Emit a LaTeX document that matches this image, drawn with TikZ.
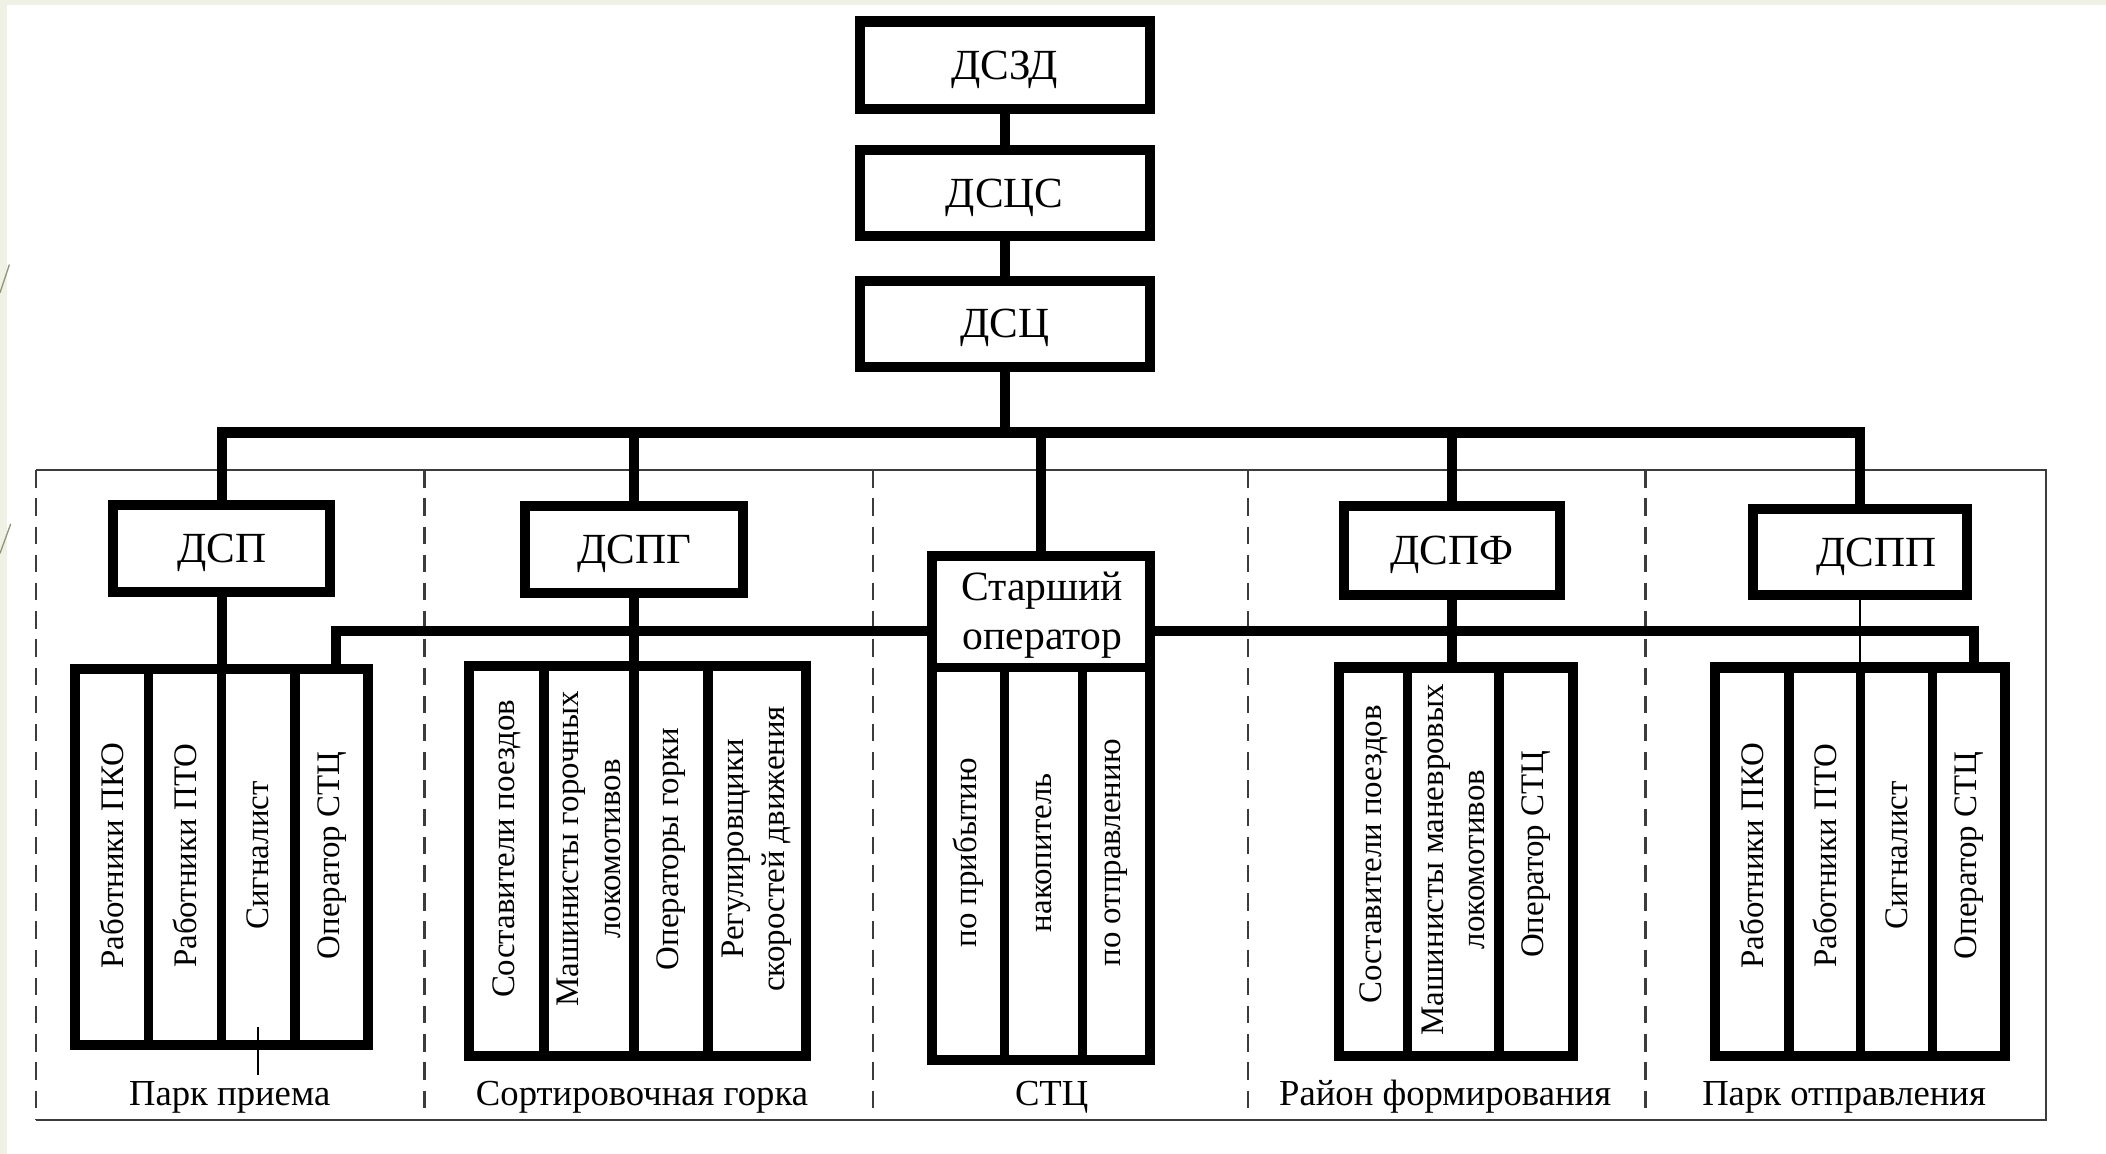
\documentclass[tikz,border=0pt]{standalone}
\usepackage{fontspec}
\setmainfont{Liberation Serif}
\definecolor{slidebg}{RGB}{239,241,229}
\definecolor{deco}{RGB}{150,150,118}
\definecolor{framegray}{RGB}{60,60,60}
\begin{document}
\begin{tikzpicture}[x=1pt,y=-1pt,
  thickbox/.style={draw=black, line width=7.5pt, fill=white, rectangle, inner sep=0pt},
  toplabel/.style={font=\fontsize{32}{38}\selectfont, text height=21pt, text depth=0pt},
  bus/.style={line width=7.5pt, black},
  colsep/.style={line width=7pt, black},
  thinlink/.style={line width=1.6pt, black},
  vtext/.style={rotate=90, font=\fontsize{24.5}{31}\selectfont, align=center, inner sep=0pt},
  zonelabel/.style={font=\fontsize{27.3}{32}\selectfont, inner sep=0pt, anchor=base},
  zonedash/.style={line width=1.8pt, framegray, dash pattern=on 13pt off 8pt},
  zonesolid/.style={line width=1.6pt, framegray}]
\useasboundingbox (0,0) rectangle (1568,859);
% background
\fill[slidebg] (0,0) rectangle (1568,859);
\fill[white] (5,4) rectangle (1568,859);
\draw[deco, line width=1pt] (0,218) -- (7,197);
\draw[deco, line width=1pt] (0,412) -- (8,390);

% zone frame
\draw[zonesolid] (27,350) -- (1523,350) -- (1523,834) -- (27,834);
\draw[zonedash] (27,350) -- (27,834);
\draw[zonedash] (316,350) -- (316,834);
\draw[zonedash] (650,350) -- (650,834);
\draw[zonedash] (929,350) -- (929,834);
\draw[zonedash] (1225,350) -- (1225,834);

% top chain
\node[thickbox, toplabel, minimum width=216pt, minimum height=65pt] (dszd) at (748,48.5) {ДСЗД};
\node[thickbox, toplabel, minimum width=216pt, minimum height=64pt] (dscs) at (748,144) {ДСЦС};
\node[thickbox, toplabel, minimum width=216pt, minimum height=64pt] (dsc) at (748,241) {ДСЦ};

% second level
\node[thickbox, toplabel, minimum width=162pt, minimum height=65pt] (dsp) at (165,408.5) {ДСП};
\node[thickbox, toplabel, minimum width=162pt, minimum height=65pt] (dspg) at (472,409) {ДСПГ};
\node[thickbox, toplabel, minimum width=161pt, minimum height=66pt] (dspf) at (1081,410) {ДСПФ};
\node[thickbox, toplabel, minimum width=159pt, minimum height=64pt] (dspp) at (1385,411) {\hspace*{24pt}ДСПП};

% senior operator box
\node[thickbox, minimum width=162pt, minimum height=375pt] (so) at (775,601.5) {};
\node[font=\fontsize{31}{36}\selectfont, align=center, inner sep=0pt] (sotext) at (776,458) {Старший\\оператор};

% groups
\node[thickbox, minimum width=218pt, minimum height=280pt] (g1) at (165,638) {};
\node[thickbox, minimum width=251pt, minimum height=290pt] (g2) at (474.5,641) {};
\node[thickbox, minimum width=174pt, minimum height=289pt] (g4) at (1084,641.5) {};
\node[thickbox, minimum width=216pt, minimum height=289pt] (g5) at (1385,641.5) {};

% bus 1
\coordinate (busY) at (0,322);
\draw[bus] (dszd.south) -- (dscs.north);
\draw[bus] (dscs.south) -- (dsc.north);
\draw[bus] (dsc.south) -- (dsc.south |- busY);
\draw[bus, line join=miter] (dsp.north) -- (dsp.north |- busY) -- (dspp.north |- busY) -- (dspp.north);
\draw[bus] (dspg.north |- busY) -- (dspg.north);
\draw[bus] (so.north |- busY) -- (so.north);
\draw[bus] (dspf.north |- busY) -- (dspf.north);

% bus 2
\coordinate (b2L) at (250,470);
\coordinate (b2R) at (1470,470);
\draw[bus, line join=miter] (g1.north -| b2L) -- (b2L) -- (so.west |- b2L);
\draw[bus, line join=miter] (so.east |- b2R) -- (b2R) -- (g5.north -| b2R);

% links second level -> groups
\draw[bus] (dsp.south) -- (dsp.south |- g1.north);
\draw[bus] (dspg.south) -- (dspg.south |- g2.north);
\draw[bus] (dspf.south) -- (dspf.south |- g4.north);
\draw[thinlink] (dspp.south) -- (dspp.south |- g5.north);
\fill (dsp.south) ++(0,-4) circle (3.5pt);

% column separators
\draw[colsep] (110.5,498) -- (110.5,778);
\draw[colsep] (165,498) -- (165,778);
\draw[colsep] (219.5,498) -- (219.5,778);
\draw[line width=1.2pt] (192,765) -- (192,800);

\draw[colsep] (405,496) -- (405,786);
\draw[colsep] (472,496) -- (472,786);
\draw[colsep] (527,496) -- (527,786);

\draw[colsep] (694,497) -- (856,497);
\draw[colsep] (748,497) -- (748,789);
\draw[colsep] (806,497) -- (806,789);

\draw[colsep] (1048,497) -- (1048,786);
\draw[colsep] (1116,497) -- (1116,786);

\draw[colsep] (1332,497) -- (1332,786);
\draw[colsep] (1385,497) -- (1385,786);
\draw[colsep] (1439,497) -- (1439,786);

% vertical texts
\node[vtext] (t11) at (83,637) {Работники ПКО};
\node[vtext] (t12) at (138,637) {Работники ПТО};
\node[vtext] (t13) at (192,637) {Сигналист};
\node[vtext] (t14) at (247,637) {Оператор СТЦ};

\node[vtext] (t21) at (377,632) {Составители поездов};
\node[vtext] (t22) at (438.5,632) {Машинисты горочных\\локомотивов};
\node[vtext] (t23) at (499.5,632) {Операторы горки};
\node[vtext] (t24) at (563.5,632) {Регулировщики\\скоростей движения};

\node[vtext] (t31) at (721,635) {по прибытию};
\node[vtext] (t32) at (777,635) {накопитель};
\node[vtext] (t33) at (831,635) {по отправлению};

\node[vtext] (t41) at (1022.5,636) {Составители поездов};
\node[vtext] (t42) at (1082,640) {Машинисты маневровых\\локомотивов};
\node[vtext] (t43) at (1143.5,636) {Оператор СТЦ};

\node[vtext] (t51) at (1304.5,637) {Работники ПКО};
\node[vtext] (t52) at (1358.5,637) {Работники ПТО};
\node[vtext] (t53) at (1412,637) {Сигналист};
\node[vtext] (t54) at (1466,637) {Оператор СТЦ};

% zone labels
\node[zonelabel] (z1) at (171,823) {Парк приема};
\node[zonelabel] (z2) at (478,823) {Сортировочная горка};
\node[zonelabel] (z3) at (783,823) {СТЦ};
\node[zonelabel] (z4) at (1076,823) {Район формирования};
\node[zonelabel] (z5) at (1373,823) {Парк отправления};
\end{tikzpicture}
\end{document}
